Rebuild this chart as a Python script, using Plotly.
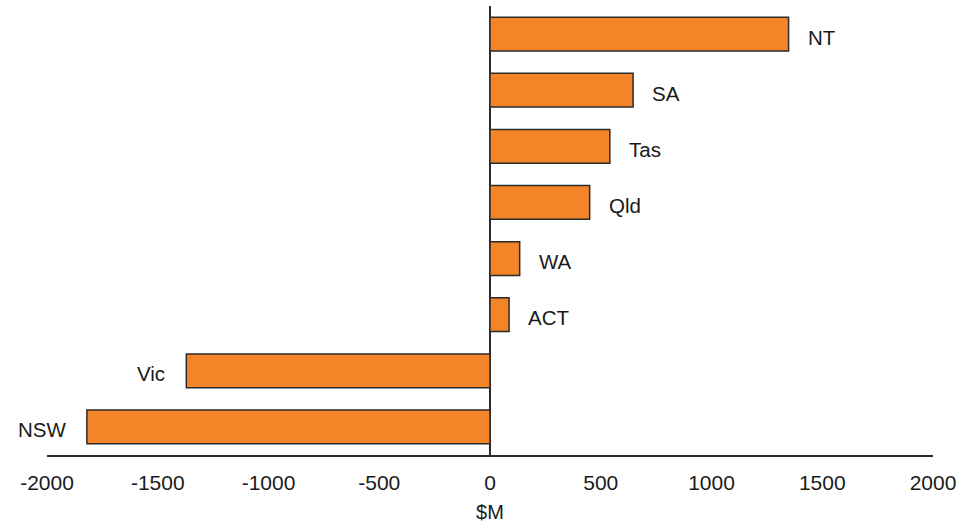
import plotly.graph_objects as go

states = ["NSW", "Vic", "ACT", "WA", "Qld", "Tas", "SA", "NT"]
values = [-1820, -1371, 86, 134, 450, 541, 646, 1348]
tick_vals = [-2000, -1500, -1000, -500, 0, 500, 1000, 1500, 2000]
tick_text = ["-2000", "-1500", "-1000", "-500", "0", "500", "1000", "1500", "2000"]

FONT = "Liberation Sans, Arial, Helvetica, sans-serif"

fig = go.Figure()
fig.add_trace(go.Bar(
    y=states, x=values, orientation="h",
    marker=dict(color="#F38428", line=dict(color="#2b2b2b", width=1.5)),
    width=0.6, hoverinfo="x+y",
))

annotations = []
for s, v in zip(states, values):
    annotations.append(dict(
        x=v, y=s, xref="x", yref="y", text=s, showarrow=False,
        xanchor="left" if v >= 0 else "right",
        xshift=17 if v >= 0 else -19,
        yshift=-3,
        font=dict(family=FONT, size=20.5, color="#1a1a1a"),
    ))

fig.update_layout(
    width=971, height=524,
    margin=dict(l=47, r=38, t=6, b=69),
    paper_bgcolor="white", plot_bgcolor="white",
    showlegend=False,
    annotations=annotations,
    font=dict(family=FONT, size=21, color="#1a1a1a"),
    xaxis=dict(
        automargin=False,
        range=[-2000, 2000], tickvals=tick_vals, ticktext=tick_text,
        showgrid=False, zeroline=True, zerolinecolor="#2b2b2b", zerolinewidth=1.5,
        showline=True, linecolor="#2b2b2b", linewidth=2,
        ticks="outside", ticklen=8, tickcolor="rgba(0,0,0,0)",
        title=dict(text="$M", standoff=12, font=dict(family=FONT, size=20)),
        tickfont=dict(family=FONT, size=21),
    ),
    yaxis=dict(
        automargin=False,
        showticklabels=False, showgrid=False, zeroline=False, showline=False,
        range=[-0.5, 7.5],
    ),
)

fig.write_html("out.html")
